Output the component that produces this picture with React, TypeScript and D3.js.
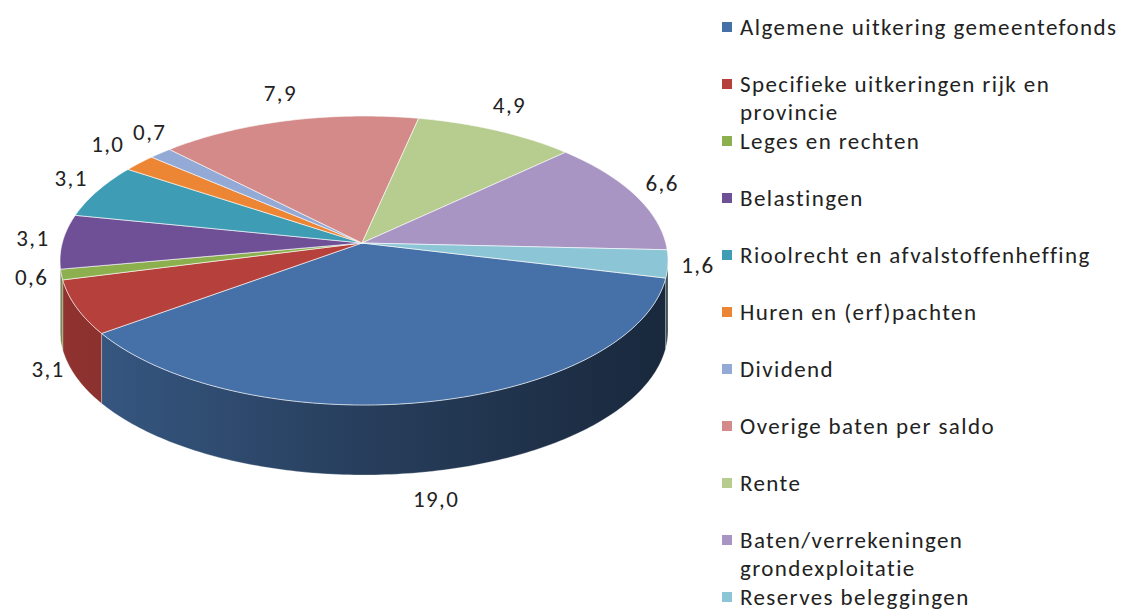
import React from "react";
import * as d3 from "d3";

const categories = [
  "Algemene uitkering gemeentefonds",
  "Specifieke uitkeringen rijk en provincie",
  "Leges en rechten",
  "Belastingen",
  "Rioolrecht en afvalstoffenheffing",
  "Huren en (erf)pachten",
  "Dividend",
  "Overige baten per saldo",
  "Rente",
  "Baten/verrekeningen grondexploitatie",
  "Reserves beleggingen",
];
const values = [19.0, 3.1, 0.6, 3.1, 3.1, 1.0, 0.7, 7.9, 4.9, 6.6, 1.6];
const colors = [
  "#4670A8", "#B5403C", "#8DB04E", "#6F5097", "#3E9DB5", "#EC8634",
  "#93A9D6", "#D38A89", "#B7CC8F", "#A895C3", "#8CC5D6",
];

const W = 1131, H = 612;
const CX = 364, CY = 260.5, RX = 304, RY = 144.5, DEPTH = 70;
const APX = 362, APY = 243;
const START = 10; // degrees, clockwise from 3 o'clock
const FONT = "Carlito, Calibri, Lato, sans-serif";
const FS = 23;
const LS = 1.4; // letter spacing
const LINE = 28;

const rad = (d: number) => (d * Math.PI) / 180;
// perspective-like warp of the true angle onto the ellipse parameter
const warp = (t: number) => t + 2.6 - 5.7 * Math.cos(rad(t));
const rim = (phi: number, dy = 0): [number, number] => [
  CX + RX * Math.cos(rad(phi)),
  CY + dy + RY * Math.sin(rad(phi)),
];

const pie = d3
  .pie<number>()
  .sort(null)
  .value((d) => d)
  .startAngle(rad(START + 90))
  .endAngle(rad(START + 450));

const fmt = (v: number) => d3.format(".1f")(v).replace(".", ",");

function topPath(p0: number, p1: number) {
  const p = d3.path();
  p.moveTo(APX, APY);
  const n = Math.max(2, Math.ceil(p1 - p0));
  for (let i = 0; i <= n; i++) {
    const [x, y] = rim(p0 + ((p1 - p0) * i) / n);
    p.lineTo(x, y);
  }
  p.closePath();
  return p.toString();
}

function sidePaths(p0: number, p1: number) {
  const out: string[] = [];
  for (const off of [-360, 0, 360]) {
    const a = Math.max(p0, off), b = Math.min(p1, off + 180);
    if (b > a) {
      const p = d3.path();
      const n = Math.max(2, Math.ceil(b - a));
      for (let i = 0; i <= n; i++) {
        const [x, y] = rim(a + ((b - a) * i) / n);
        if (i === 0) p.moveTo(x, y);
        else p.lineTo(x, y);
      }
      for (let i = n; i >= 0; i--) {
        const [x, y] = rim(a + ((b - a) * i) / n, DEPTH);
        p.lineTo(x, y);
      }
      p.closePath();
      out.push(p.toString());
    }
  }
  return out;
}

const shade = (c: string, k: number) => {
  const r = d3.rgb(c);
  return d3.rgb(r.r * k, r.g * k, r.b * k).formatHex();
};

function wrap(s: string, max = 33) {
  const words = s.split(" ");
  const lines: string[] = [];
  let cur = "";
  for (const w of words) {
    const t = cur ? cur + " " + w : w;
    if (t.length > max && cur) {
      lines.push(cur);
      cur = w;
    } else cur = t;
  }
  if (cur) lines.push(cur);
  return lines;
}

export default function App() {
  const arcs = pie(values);
  const slices = arcs.map((a, i) => {
    const t0 = (a.startAngle * 180) / Math.PI - 90;
    const t1 = (a.endAngle * 180) / Math.PI - 90;
    const p0 = warp(t0), p1 = warp(t1);
    const pm = warp((t0 + t1) / 2);
    const s = Math.sin(rad(pm)), c = Math.cos(rad(pm));
    const front = Math.min(1, Math.max(0, (s - 0.1) / 0.3));
    const lx = CX + (RX + 30) * c;
    const ly = CY + (RY + 28) * s + DEPTH * front;
    const text = fmt(values[i]);
    return { i, p0, p1, lx, ly, text, w: text.length * FS * 0.55 + 4 };
  });
  // simple horizontal collision avoidance between neighbouring labels
  for (let iter = 0; iter < 6; iter++) {
    for (let k = 0; k < slices.length; k++) {
      const A = slices[k], B = slices[(k + 1) % slices.length];
      const need = (A.w + B.w) / 2;
      const dx = B.lx - A.lx, dy = B.ly - A.ly;
      if (Math.abs(dy) < FS * 0.9 && Math.abs(dx) < need) {
        const push = (need - Math.abs(dx)) / 2;
        const sgn = dx >= 0 ? 1 : -1;
        A.lx -= push * sgn;
        B.lx += push * sgn;
      }
    }
  }
  const legendY = d3.scaleLinear().domain([0, 10]).range([27, 597]);

  return (
    <svg width={W} height={H} style={{ display: "block", position: "absolute", left: 0, top: 0 }}>
      <rect width={W} height={H} fill="#fff" />
      <defs>
        {colors.map((c, i) => (
          <linearGradient key={i} id={`side${i}`} gradientUnits="userSpaceOnUse" x1={CX - RX} x2={CX + RX} y1={0} y2={0}>
            <stop offset="0" stopColor={shade(c, 0.8)} />
            <stop offset="0.5" stopColor={shade(c, 0.55)} />
            <stop offset="1" stopColor={shade(c, 0.36)} />
          </linearGradient>
        ))}
      </defs>
      <g>
        {slices.map((s) =>
          sidePaths(s.p0, s.p1).map((d, k) => (
            <path key={`s${s.i}-${k}`} d={d} fill={`url(#side${s.i})`} stroke="#ffffff" strokeOpacity={0.35} strokeWidth={0.8} />
          ))
        )}
        {slices.map((s) => (
          <path key={`t${s.i}`} d={topPath(s.p0, s.p1)} fill={colors[s.i]} stroke="#ffffff" strokeOpacity={0.6} strokeWidth={1} strokeLinejoin="round" />
        ))}
      </g>
      <g fontFamily={FONT} fontSize={FS} fill="#222" letterSpacing={LS}>
        {slices.map((s) => (
          <text key={`l${s.i}`} x={s.lx} y={s.ly} textAnchor="middle" dominantBaseline="central">
            {s.text}
          </text>
        ))}
      </g>
      <g fontFamily={FONT} fontSize={FS} fill="#222" letterSpacing={LS}>
        {categories.map((c, i) => {
          const y = legendY(i);
          const lines = wrap(c);
          return (
            <g key={`g${i}`}>
              <rect x={722} y={y - 5} width={10} height={10} fill={colors[i]} />
              {lines.map((ln, j) => (
                <text key={j} x={740} y={y + j * LINE} dominantBaseline="central">
                  {ln}
                </text>
              ))}
            </g>
          );
        })}
      </g>
    </svg>
  );
}
